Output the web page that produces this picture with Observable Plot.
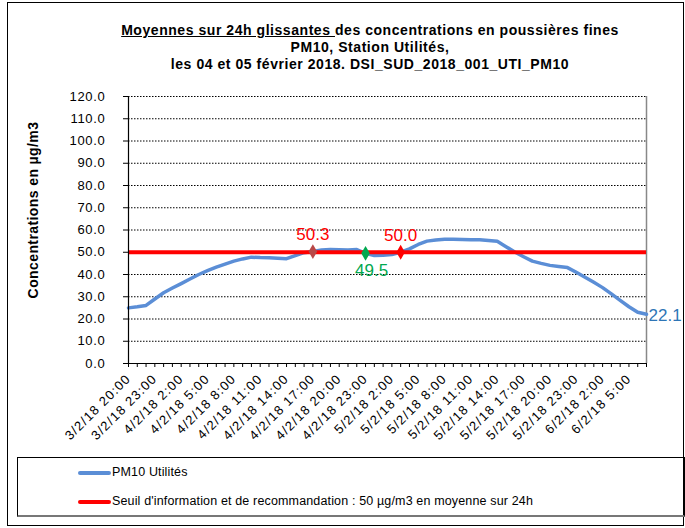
<!DOCTYPE html>
<html>
<head>
<meta charset="utf-8">
<script src="https://cdn.jsdelivr.net/npm/d3@7"></script>
<script src="https://cdn.jsdelivr.net/npm/@observablehq/plot@0.6"></script>
<style>
  body { margin: 0; background: #fff; font-family: "Liberation Sans", Arial, sans-serif; }
  #wrap { position: relative; width: 685px; height: 528px; overflow: hidden; }
  #frame { position: absolute; left: 7px; top: 2px; width: 675px; height: 522px; border: 1px solid #000; }
  #title { position: absolute; left: 60px; width: 620px; top: 22px; text-align: center; font-weight: bold; font-size: 14px; letter-spacing: 0.55px; line-height: 17px; color: #000; }
  #ylab { position: absolute; left: -92px; top: 201px; width: 250px; height: 18px; line-height: 18px; text-align: center; font-weight: bold; font-size: 14px; letter-spacing: 0.4px; transform: rotate(-90deg); }
  #chart { position: absolute; left: 0; top: 0; }
  #chart g[aria-label="x-axis tick label"] text { letter-spacing: 1.2px; }
  #chart g[aria-label="y-axis tick label"] text { letter-spacing: 0.7px; }
  #legend { position: absolute; left: 17px; top: 457px; width: 666px; height: 57px; border: 1px solid #000; border-bottom: 2px solid #777; font-size: 12.5px; letter-spacing: 0.15px; }
  .item { position: absolute; left: 60px; height: 16px; line-height: 16px; }
  .sw { display: inline-block; width: 33px; height: 4px; vertical-align: middle; margin-right: 1px; border-radius: 2px; }
</style>
</head>
<body>
<div id="wrap">
  <div id="frame"></div>
  <div id="chart"></div>
  <div id="title"><u>Moyennes sur 24h glissantes </u>des concentrations en poussières fines<br>PM10, Station Utilités,<br>les 04 et 05 février 2018. DSI_SUD_2018_001_UTI_PM10</div>
  <div id="ylab">Concentrations en µg/m3</div>
  <div id="legend">
    <div class="item" style="top:6px"><span class="sw" style="background:#5b8ed6"></span>PM10 Utilités</div>
    <div class="item" style="top:35px"><span class="sw" style="background:#ff0000"></span>Seuil d'information et de recommandation : 50 µg/m3 en moyenne sur 24h</div>
  </div>
</div>
<script>
const hours = [
  "3/2/18 20:00","3/2/18 21:00","3/2/18 22:00","3/2/18 23:00",
  "4/2/18 0:00","4/2/18 1:00","4/2/18 2:00","4/2/18 3:00","4/2/18 4:00","4/2/18 5:00",
  "4/2/18 6:00","4/2/18 7:00","4/2/18 8:00","4/2/18 9:00","4/2/18 10:00","4/2/18 11:00",
  "4/2/18 12:00","4/2/18 13:00","4/2/18 14:00","4/2/18 15:00","4/2/18 16:00","4/2/18 17:00",
  "4/2/18 18:00","4/2/18 19:00","4/2/18 20:00","4/2/18 21:00","4/2/18 22:00","4/2/18 23:00",
  "5/2/18 0:00","5/2/18 1:00","5/2/18 2:00","5/2/18 3:00","5/2/18 4:00","5/2/18 5:00",
  "5/2/18 6:00","5/2/18 7:00","5/2/18 8:00","5/2/18 9:00","5/2/18 10:00","5/2/18 11:00",
  "5/2/18 12:00","5/2/18 13:00","5/2/18 14:00","5/2/18 15:00","5/2/18 16:00","5/2/18 17:00",
  "5/2/18 18:00","5/2/18 19:00","5/2/18 20:00","5/2/18 21:00","5/2/18 22:00","5/2/18 23:00",
  "6/2/18 0:00","6/2/18 1:00","6/2/18 2:00","6/2/18 3:00","6/2/18 4:00","6/2/18 5:00",
  "6/2/18 6:00","6/2/18 7:00"
];
const pm10 = [
  25.0, 25.5, 26.1, 29.0,
  31.8, 33.9, 35.9, 38.0, 40.0, 41.7,
  43.3, 44.7, 46.0, 47.0, 47.8, 47.6,
  47.5, 47.3, 47.1, 48.5, 49.8, 50.3,
  51.0, 51.2, 51.1, 51.0, 51.2, 49.5,
  48.5, 48.7, 49.0, 50.0, 51.5, 53.5,
  55.0, 55.5, 55.8, 55.8, 55.7, 55.6,
  55.6, 55.3, 54.9, 52.5, 50.1, 48.0,
  46.0, 45.0, 44.1, 43.6, 43.1, 41.0,
  38.8, 36.5, 34.1, 31.3, 28.4, 25.5,
  23.0, 22.1
];
const tickLabels = [
  "3/2/18 20:00","3/2/18 23:00","4/2/18 2:00","4/2/18 5:00","4/2/18 8:00","4/2/18 11:00",
  "4/2/18 14:00","4/2/18 17:00","4/2/18 20:00","4/2/18 23:00","5/2/18 2:00","5/2/18 5:00",
  "5/2/18 8:00","5/2/18 11:00","5/2/18 14:00","5/2/18 17:00","5/2/18 20:00","5/2/18 23:00",
  "6/2/18 2:00","6/2/18 5:00"
];
const yTicks = [0, 10, 20, 30, 40, 50, 60, 70, 80, 90, 100, 110, 120];
const seuil = 50;
const markHours = ["4/2/18 17:00", "4/2/18 23:00", "5/2/18 3:00"];
const markValues = [50.3, 49.5, 50.0];

const data = hours.map((h, i) => ({h, v: pm10[i]}));
const marks3 = markHours.map((h, i) => ({h, v: markValues[i], k: i}));
const above = marks3.filter(d => d.k !== 1);
const below = marks3.filter(d => d.k === 1);
const markColor = ["#b84848", "#00a84f", "#ff0000"];
const last = data[data.length - 1];

const chart = Plot.plot({
  width: 685,
  height: 450,
  marginLeft: 128,
  marginRight: 39,
  marginTop: 96,
  marginBottom: 87,
  style: {fontFamily: "'Liberation Sans', Arial, sans-serif", fontSize: "12px", background: "transparent", color: "#000"},
  x: {type: "point", domain: hours, padding: 0},
  y: {domain: [0, 120]},
  marks: [
    Plot.ruleY(yTicks.filter(d => d > 0), {stroke: "#000", strokeWidth: 1, strokeDasharray: "1.5,1.5"}),
    Plot.ruleX([hours[hours.length - 1]], {stroke: "#888", strokeWidth: 1.5}),
    Plot.line(data, {x: "h", y: "v", stroke: "#5b8ed6", strokeWidth: 3.5}),
    Plot.ruleY([seuil], {stroke: "#ff0000", strokeWidth: 4}),
    Plot.dot(marks3, {x: "h", y: "v", symbol: "diamond", r: 4.5, fill: d => markColor[d.k], stroke: "none"}),
    Plot.text(above, {x: "h", y: "v", text: d => d.v.toFixed(1), fill: "#ff0000", fontSize: 17, dy: -17}),
    Plot.text(below, {x: "h", y: "v", text: d => d.v.toFixed(1), fill: "#00a84f", fontSize: 17, dx: 6, dy: 17}),
    Plot.text([last], {x: "h", y: "v", text: d => d.v.toFixed(1), fill: "#2e75b6", fontSize: 17, textAnchor: "start", dx: 2, dy: 1}),
    Plot.ruleX([hours[0]], {stroke: "#000", strokeWidth: 1.2}),
    Plot.ruleY([0], {stroke: "#000", strokeWidth: 1.2}),
    Plot.axisY({ticks: yTicks, tickFormat: d => d.toFixed(1), tickSize: 5, tickPadding: 18, fontSize: 13, label: null}),
    Plot.axisX({ticks: hours, tickFormat: d => tickLabels.includes(d) ? d : "", tickRotate: -45, tickSize: 4, tickPadding: 9, fontSize: 13, label: null})
  ]
});
document.getElementById("chart").appendChild(chart);
</script>
</body>
</html>
